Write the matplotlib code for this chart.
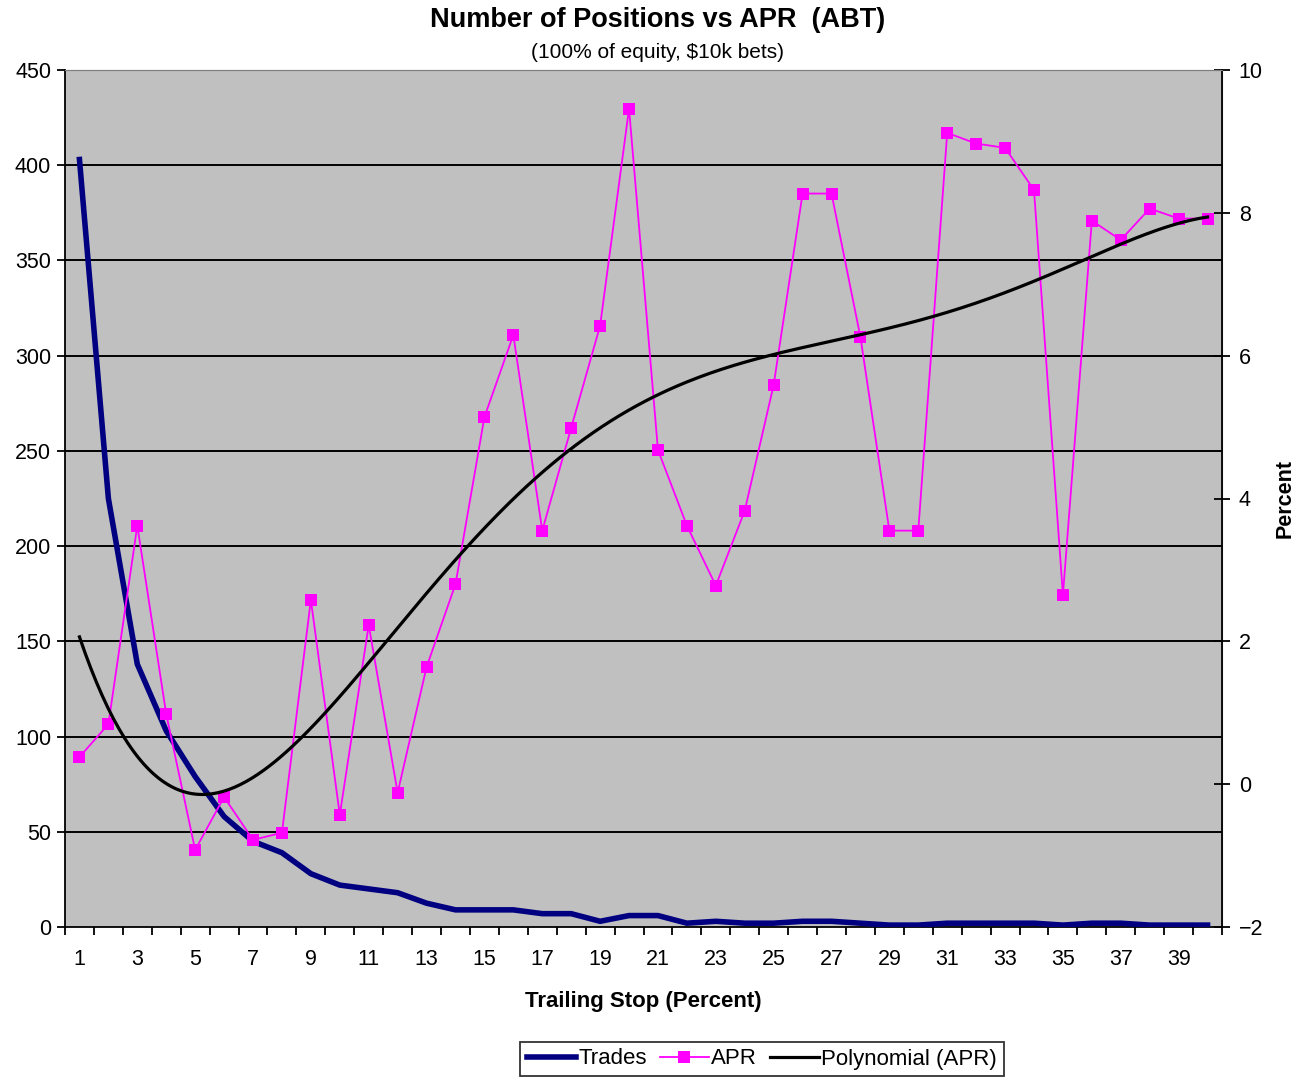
import matplotlib.pyplot as plt
import numpy as np

plt.rcParams['font.family'] = ['Liberation Sans', 'DejaVu Sans']

# trailing stop percent (categories 1..40)
stops = list(range(1, 41))

# number of trades per trailing stop (left axis)
trades = [403, 225, 138, 103, 79, 58, 45, 39, 28, 22,
          20, 18, 12.5, 9, 9, 9, 7, 7, 3, 6,
          6, 2, 3, 2, 2, 3, 3, 2, 1, 1,
          2, 2, 2, 2, 1, 2, 2, 1, 1, 1]

# APR percent (right axis)
apr = [0.38, 0.84, 3.62, 0.98, -0.92, -0.18, -0.78, -0.68, 2.58, -0.43,
       2.23, -0.12, 1.64, 2.80, 5.14, 6.29, 3.55, 4.99, 6.42, 9.46,
       4.68, 3.62, 2.78, 3.83, 5.59, 8.27, 8.27, 6.26, 3.55, 3.55,
       9.12, 8.97, 8.91, 8.32, 2.65, 7.89, 7.62, 8.06, 7.92, 7.92]

tick_labels = [str(s) for s in stops if s % 2 == 1]

fig = plt.figure(figsize=(13.03, 10.8), dpi=100)
ax = fig.add_axes([65 / 1303, 153 / 1080, 1157 / 1303, 857 / 1080])
ax.set_facecolor('#c0c0c0')

# gridlines at left axis ticks
for g in range(50, 450, 50):
    ax.axhline(g, color='black', lw=1.4, zorder=1)

ax.plot(stops, trades, color='#000080', lw=4, zorder=3, label='Trades')
ax.set_xlim(0.5, 40.5)
ax.set_ylim(0, 450)
ax.set_yticks(range(0, 451, 50))
ax.set_xticks(np.arange(0.5, 41, 1), minor=False)
ax.set_xticklabels([])
ax.set_xticks([s for s in stops if s % 2 == 1], minor=True)
ax.set_xticklabels(tick_labels, minor=True)
ax.tick_params(axis='x', which='major', direction='out', length=6, width=1.3)
ax.tick_params(axis='x', which='minor', length=0, labelsize=15.5, pad=16)
ax.tick_params(axis='y', direction='out', length=6, width=1.3, labelsize=15.5, pad=4)
ax.spines['top'].set_color('#808080')
ax.spines['right'].set_color('#808080')
for s in ['left', 'bottom']:
    ax.spines[s].set_linewidth(1.3)
ax.set_xlabel('Trailing Stop (Percent)', fontsize=16, fontweight='bold', labelpad=15)

ax2 = ax.twinx()
ax2.set_ylim(-2, 10)
ax2.set_yticks(range(-2, 11, 2))
ax2.tick_params(axis='y', direction='inout', length=12, width=1.3, labelsize=15.5, pad=6)
ax2.spines['right'].set_color('black')
ax2.spines['right'].set_linewidth(1.3)
ax2.spines['top'].set_color('#808080')
ax2.spines['left'].set_visible(False)
ax2.spines['bottom'].set_visible(False)

ax2.plot(stops, apr, color='#ff00ff', lw=1.3, marker='s', markersize=8,
         markeredgewidth=0, zorder=3, label='APR')

# 5th order polynomial trendline on APR
coef = np.polyfit(stops, apr, 5)
xs = np.linspace(1, 40, 400)
ax2.plot(xs, np.polyval(coef, xs), color='black', lw=2.3, zorder=4, label='Polynomial (APR)')
ax2.set_ylabel('Percent', fontsize=15.5, fontweight='bold', labelpad=8)

fig.text(657.5 / 1303, 1 - 20 / 1080, 'Number of Positions vs APR  (ABT)',
         ha='center', va='center', fontsize=19.5, fontweight='bold')
fig.text(657.5 / 1303, 1 - 53 / 1080, '(100% of equity, $10k bets)',
         ha='center', va='center', fontsize=15)

h1, l1 = ax.get_legend_handles_labels()
h2, l2 = ax2.get_legend_handles_labels()
leg = fig.legend(h1 + h2, l1 + l2, loc='center', bbox_to_anchor=(762 / 1303, 1 - 1059 / 1080),
                 ncol=3, fontsize=16, frameon=True, fancybox=False, edgecolor='black',
                 handlelength=2.2, handletextpad=0.1, columnspacing=0.6, borderpad=0.3)
leg.get_frame().set_linewidth(1.3)

fig.savefig('out.png', dpi=100)
